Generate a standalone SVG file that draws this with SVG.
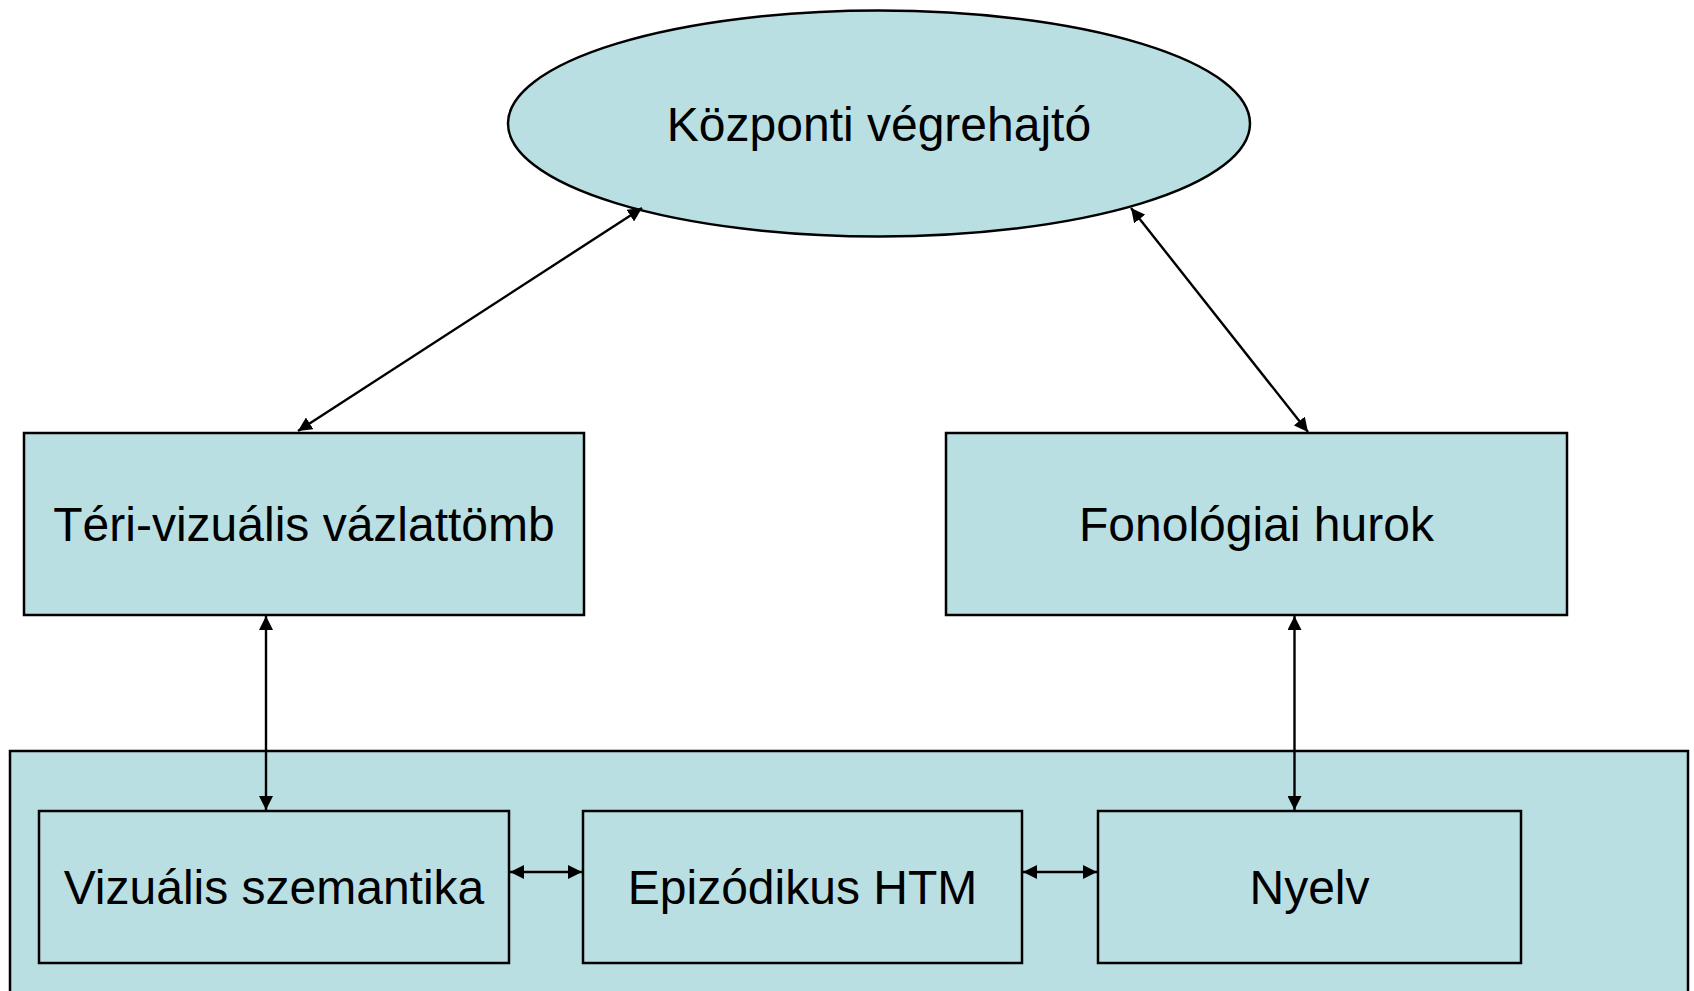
<svg xmlns="http://www.w3.org/2000/svg" width="1694" height="991" viewBox="0 0 1694 991">
  <style>
    .shape { fill: #BADFE3; stroke: #000; stroke-width: 2.5; }
    .label { font-family: "Liberation Sans", Arial, sans-serif; font-size: 48px; fill: #000; text-anchor: middle; }
    .link { stroke: #000; stroke-width: 2.4; fill: none; marker-start: url(#arrow); marker-end: url(#arrow); }
  </style>
  <defs>
    <marker id="arrow" viewBox="0 0 14 14" markerWidth="14" markerHeight="14" refX="14" refY="7" markerUnits="userSpaceOnUse" orient="auto-start-reverse">
      <path d="M0,0 L14,7 L0,14 z" fill="#000"/>
    </marker>
  </defs>

  <rect width="1694" height="991" fill="#fff"/>

  <!-- container holding the long-term stores -->
  <g id="ltm-container">
    <rect class="shape" x="10" y="751" width="1678" height="260"/>
  </g>

  <g id="central-executive">
    <ellipse class="shape" cx="879" cy="123.5" rx="371" ry="113"/>
    <text class="label" x="879" y="141">Központi végrehajtó</text>
  </g>

  <g id="visuospatial-sketchpad">
    <rect class="shape" x="24" y="433" width="560" height="182"/>
    <text class="label" x="304" y="541">Téri-vizuális vázlattömb</text>
  </g>

  <g id="phonological-loop">
    <rect class="shape" x="946" y="433" width="621" height="182"/>
    <text class="label" x="1256.5" y="541">Fonológiai hurok</text>
  </g>

  <g id="visual-semantics">
    <rect class="shape" x="39" y="811" width="470" height="152"/>
    <text class="label" x="274" y="904">Vizuális szemantika</text>
  </g>

  <g id="episodic-ltm">
    <rect class="shape" x="583" y="811" width="439" height="152"/>
    <text class="label" x="802.5" y="904">Epizódikus HTM</text>
  </g>

  <g id="language">
    <rect class="shape" x="1098" y="811" width="423" height="152"/>
    <text class="label" x="1309.5" y="904">Nyelv</text>
  </g>

  <g id="connectors">
    <line class="link" x1="298" y1="431" x2="642" y2="208"/>
    <line class="link" x1="1308" y1="432" x2="1131" y2="208"/>
    <line class="link" x1="266" y1="616" x2="266" y2="810"/>
    <line class="link" x1="1294.5" y1="616" x2="1294.5" y2="810"/>
    <line class="link" x1="510" y1="872" x2="582" y2="872"/>
    <line class="link" x1="1023" y1="872" x2="1097" y2="872"/>
  </g>
</svg>
